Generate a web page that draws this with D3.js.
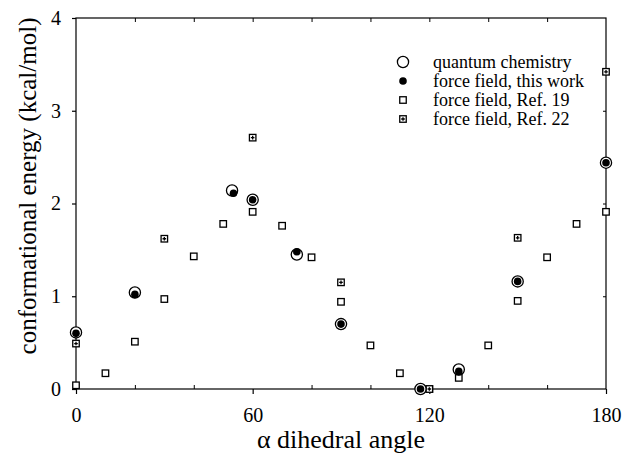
<!DOCTYPE html>
<html>
<head>
<meta charset="utf-8">
<script src="https://cdn.jsdelivr.net/npm/d3@7"></script>
<style>
  html, body { margin: 0; padding: 0; background: #fff; }
  svg text { font-family: "Liberation Serif", "Times New Roman", serif; fill: #000; }
</style>
</head>
<body>
<svg id="chart" width="623" height="473"></svg>
<script>
// ---- data ----
const qcAngles   = [0, 20, 53, 60, 75, 90, 117, 130, 150, 180];
const qcEnergy   = [0.61, 1.04, 2.14, 2.04, 1.45, 0.70, 0.00, 0.21, 1.16, 2.44];
const ffAngles   = [0, 20, 53.5, 60, 75, 90, 117, 130, 150, 180];
const ffEnergy   = [0.60, 1.02, 2.11, 2.04, 1.48, 0.70, 0.00, 0.19, 1.16, 2.44];
const ref19Angles = [0, 10, 20, 30, 40, 50, 60, 70, 80, 90, 100, 110, 120, 130, 140, 150, 160, 170, 180];
const ref19Energy = [0.04, 0.17, 0.51, 0.97, 1.43, 1.78, 1.91, 1.76, 1.42, 0.94, 0.47, 0.17, 0.00, 0.12, 0.47, 0.95, 1.42, 1.78, 1.91];
const ref22Angles = [0, 30, 60, 90, 120, 150, 180];
const ref22Energy = [0.49, 1.62, 2.71, 1.15, 0.00, 1.63, 3.42];
const xTicks = [0, 60, 120, 180];
const xMinorTicks = [20, 40, 80, 100, 140, 160];
const yTicks = [0, 1, 2, 3, 4];
const legendLabels = ["quantum chemistry", "force field, this work", "force field, Ref. 19", "force field, Ref. 22"];
const xTitle = "\u03b1 dihedral angle";
const yTitle = "conformational energy (kcal/mol)";

// ---- layout ----
const svg = d3.select("#chart");
const L = 76, R = 606, T = 18, B = 389;
const x = d3.scaleLinear().domain([0, 180]).range([L, R]);
const y = d3.scaleLinear().domain([0, 4]).range([B, T]);

const zip = (a, b) => a.map((v, i) => [v, b[i]]);

// frame
const g = svg.append("g");
g.append("rect").attr("x", L).attr("y", T).attr("width", R - L).attr("height", B - T)
  .attr("fill", "none").attr("stroke", "#000").attr("stroke-width", 1.2);

// bottom axis: major ticks outward with labels
const xAxis = d3.axisBottom(x).tickValues(xTicks).tickSize(5).tickFormat(d3.format("d"));
const xa = g.append("g").attr("transform", `translate(0,${B})`).call(xAxis);
xa.select(".domain").remove();
xa.selectAll("line").attr("stroke", "#000").attr("stroke-width", 1.2);
xa.selectAll("text").attr("font-size", 20).attr("dy", "0.95em").attr("y", 14)
  .style("font-family", "'Liberation Serif', serif");
// minor ticks inward on bottom and top
const xm = g.append("g").attr("transform", `translate(0,${B})`)
  .call(d3.axisTop(x).tickValues(xMinorTicks).tickSize(4).tickFormat(""));
xm.select(".domain").remove();
xm.selectAll("line").attr("stroke", "#000");
const xt = g.append("g").attr("transform", `translate(0,${T})`)
  .call(d3.axisBottom(x).tickValues(xMinorTicks.concat([60, 120])).tickSize(4).tickFormat(""));
xt.select(".domain").remove();
xt.selectAll("line").attr("stroke", "#000");

// left axis
const yAxis = d3.axisLeft(y).tickValues(yTicks).tickSize(4).tickFormat(d3.format("d"));
const ya = g.append("g").attr("transform", `translate(${L},0)`).call(yAxis);
ya.select(".domain").remove();
ya.selectAll("line").attr("stroke", "#000").attr("stroke-width", 1.2);
ya.selectAll("text").attr("font-size", 20).attr("x", -15)
  .style("font-family", "'Liberation Serif', serif");
// right axis minor ticks
const yr = g.append("g").attr("transform", `translate(${R},0)`)
  .call(d3.axisLeft(y).tickValues([1, 2, 3]).tickSize(3).tickFormat(""));
yr.select(".domain").remove();
yr.selectAll("line").attr("stroke", "#000");

// titles
svg.append("text").attr("x", 341).attr("y", 448)
  .attr("text-anchor", "middle").attr("font-size", 26).text(xTitle);
svg.append("text").attr("transform", `translate(36,186) rotate(-90)`)
  .attr("text-anchor", "middle").attr("font-size", 25).text(yTitle);

// ---- markers ----
const sq = 6.5;
function drawSquare(sel, cx, cy) {
  sel.append("rect").attr("x", cx - sq / 2).attr("y", cy - sq / 2)
    .attr("width", sq).attr("height", sq)
    .attr("fill", "#fff").attr("stroke", "#000").attr("stroke-width", 1.3);
}
function drawSquarePlus(sel, cx, cy) {
  drawSquare(sel, cx, cy);
  sel.append("path").attr("d", `M${cx - 1.8},${cy}H${cx + 1.8}M${cx},${cy - 1.8}V${cy + 1.8}`)
    .attr("stroke", "#000").attr("stroke-width", 1.3);
}
function drawCircle(sel, cx, cy) {
  sel.append("circle").attr("cx", cx).attr("cy", cy).attr("r", 5.6)
    .attr("fill", "#fff").attr("stroke", "#000").attr("stroke-width", 1.3);
}
function drawDot(sel, cx, cy) {
  sel.append("circle").attr("cx", cx).attr("cy", cy).attr("r", 3.8).attr("fill", "#000");
}

const marks = svg.append("g");
const m19 = marks.append("g");
zip(ref19Angles, ref19Energy).forEach(([a, e]) => drawSquare(m19, x(a), y(e)));
const m22 = marks.append("g");
zip(ref22Angles, ref22Energy).forEach(([a, e]) => drawSquarePlus(m22, x(a), y(e)));
const mqc = marks.append("g");
zip(qcAngles, qcEnergy).forEach(([a, e]) => drawCircle(mqc, x(a), y(e)));
const mff = marks.append("g");
zip(ffAngles, ffEnergy).forEach(([a, e]) => drawDot(mff, x(a), y(e)));

// ---- legend ----
const leg = svg.append("g");
const lx = 403, ly0 = 62, ldy = 19;
const drawers = [drawCircle, drawDot, drawSquare, drawSquarePlus];
legendLabels.forEach((lab, i) => {
  const yy = ly0 + i * ldy;
  drawers[i](leg, lx, yy);
  leg.append("text").attr("x", 433).attr("y", yy).attr("dy", "0.33em")
    .attr("font-size", 18).text(lab);
});
</script>
</body>
</html>
